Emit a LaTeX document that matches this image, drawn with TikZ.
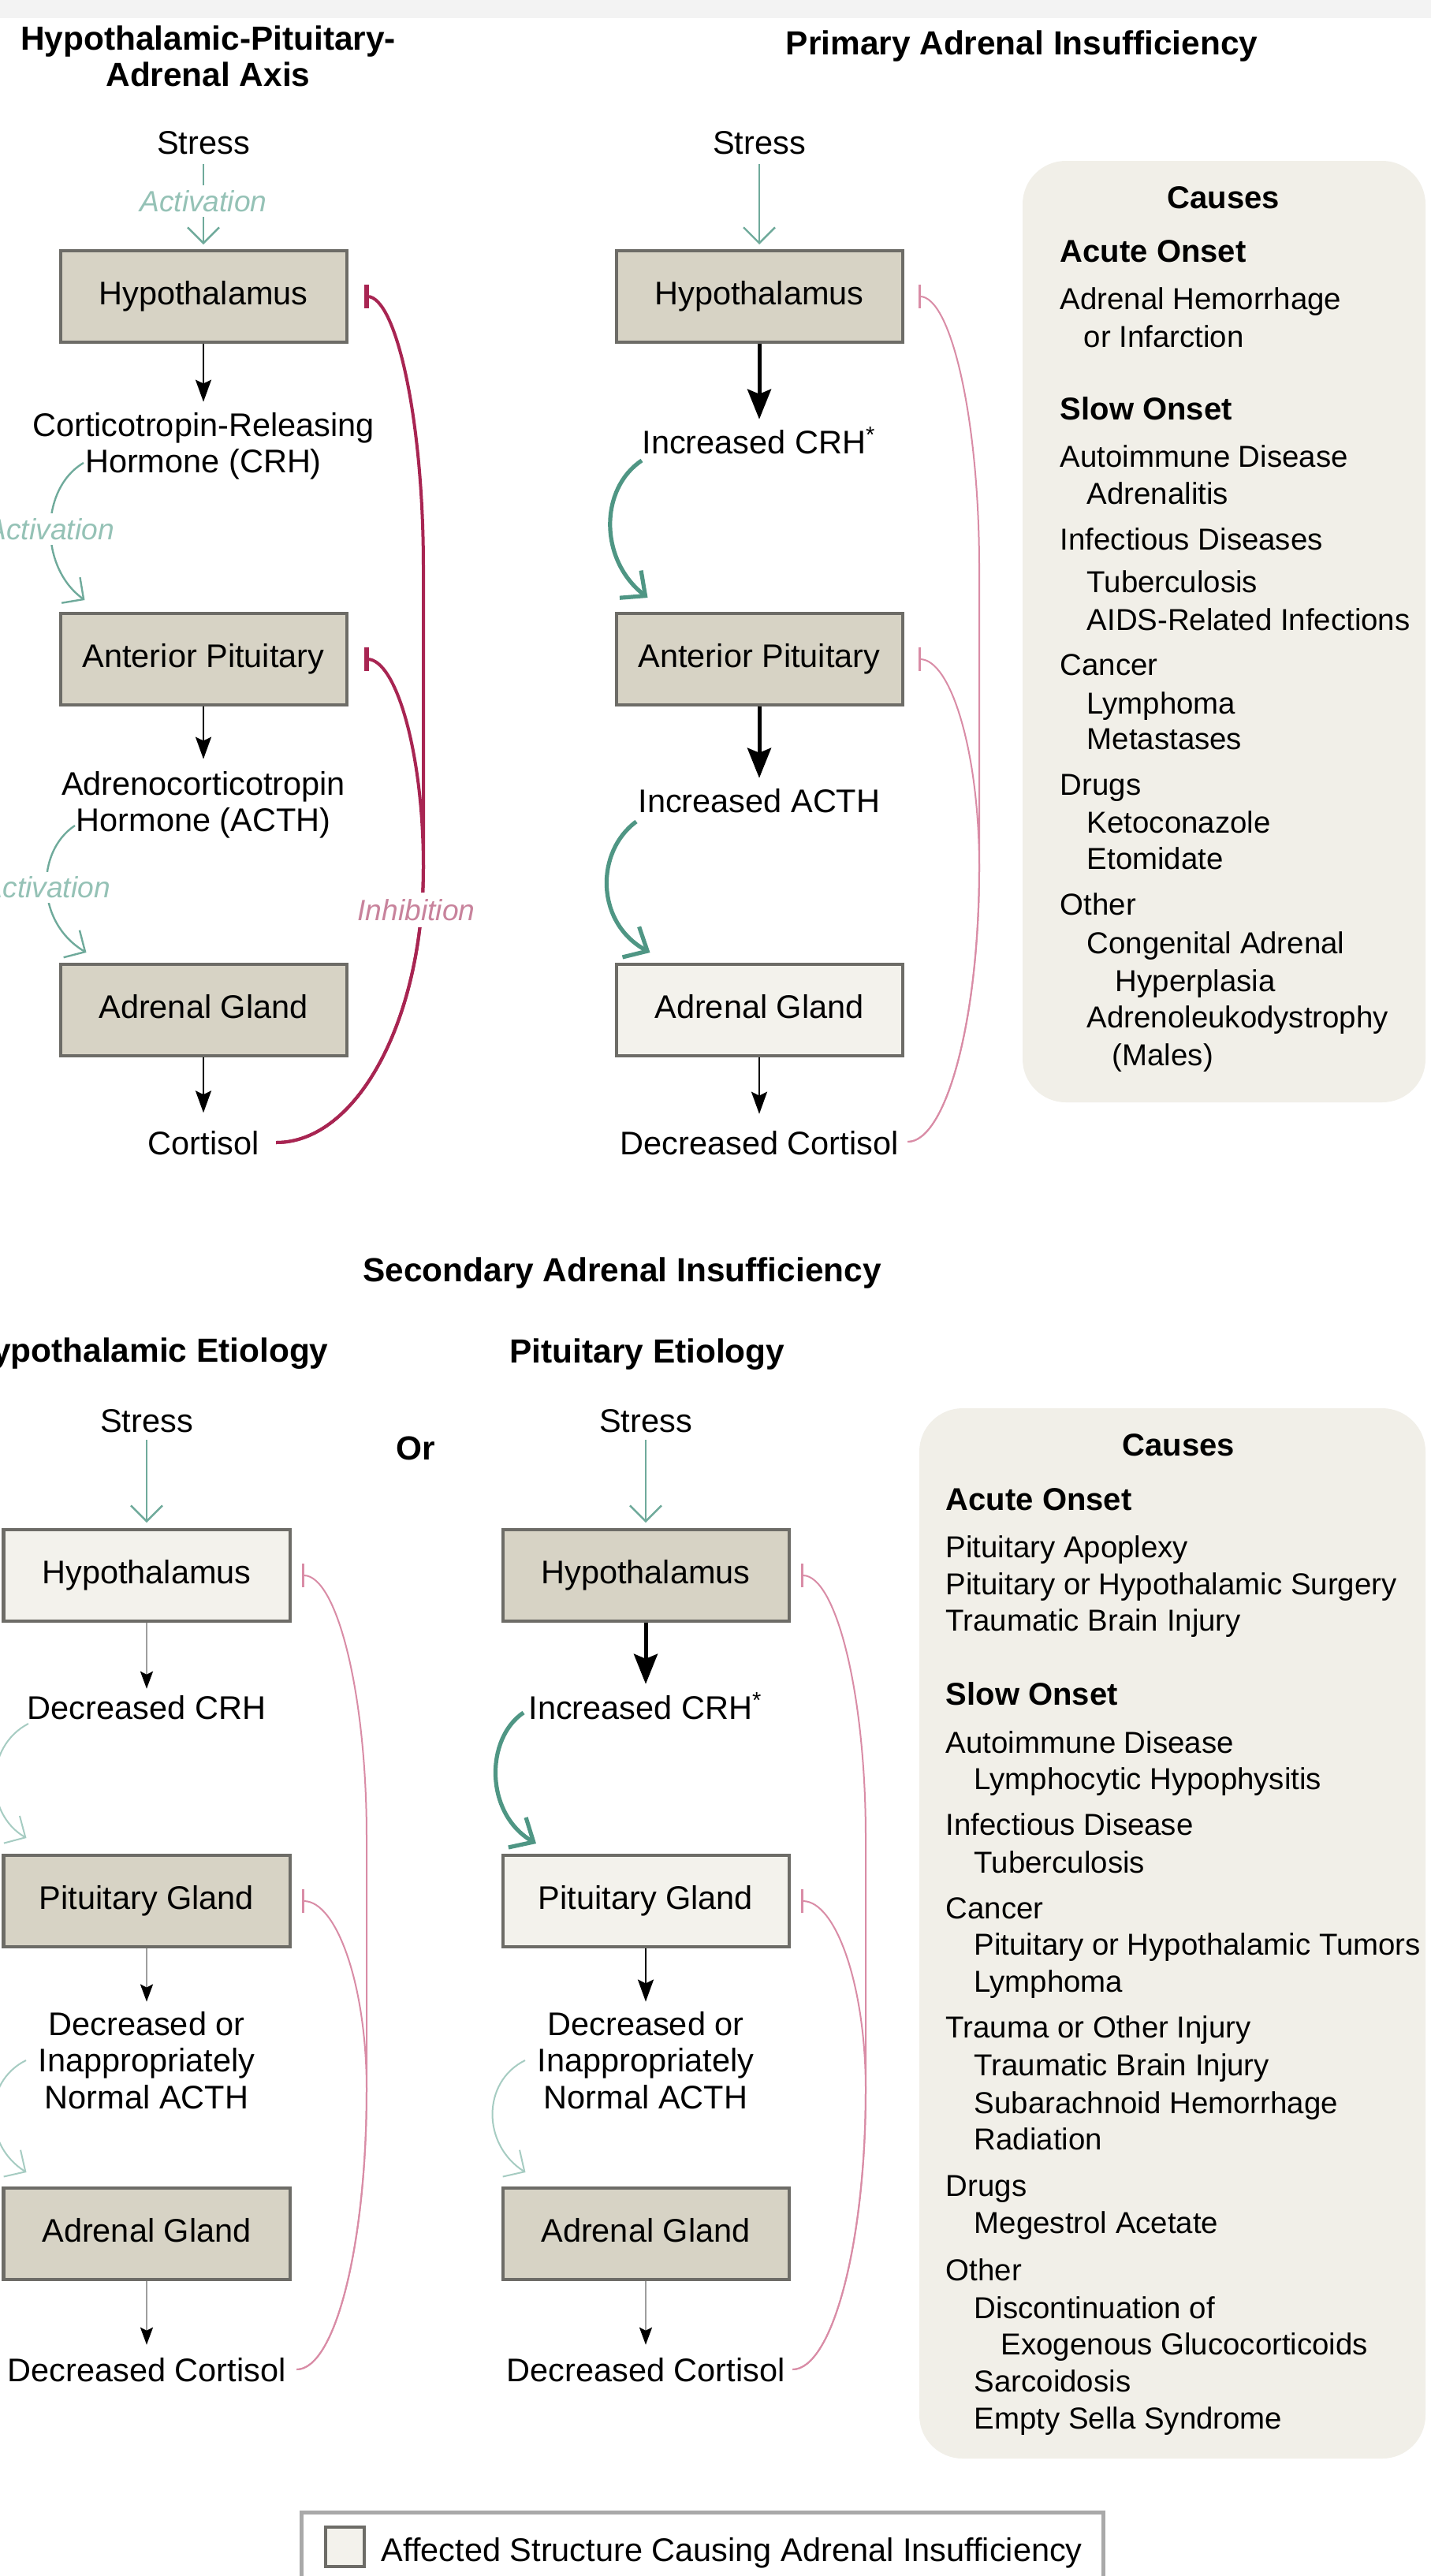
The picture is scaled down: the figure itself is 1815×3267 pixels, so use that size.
\documentclass[tikz,border=0pt]{standalone}
\usepackage{fontspec}
\setmainfont{Liberation Sans}
\usetikzlibrary{arrows.meta}
\definecolor{beigefill}{HTML}{D7D3C5}
\definecolor{palefill}{HTML}{F3F2EC}
\definecolor{boxline}{HTML}{6D6C67}
\definecolor{tealdark}{HTML}{4F9684}
\definecolor{tealmid}{HTML}{6FAA9B}
\definecolor{teallight}{HTML}{A6CCC2}
\definecolor{actlab}{HTML}{95C2B6}
\definecolor{crimson}{HTML}{A82552}
\definecolor{pinkline}{HTML}{D98CA6}
\definecolor{inhlab}{HTML}{C8839C}
\definecolor{causefill}{HTML}{F1EFE8}
\definecolor{grayarr}{HTML}{9E9E9E}
\definecolor{legline}{HTML}{A9A9A9}
\definecolor{topband}{HTML}{F3F3F3}
\newcommand\fbody{\fontsize{10.375pt}{11.6pt}\selectfont}
\newcommand\fttl{\fontsize{10.6pt}{11.5pt}\selectfont\bfseries}
\newcommand\fcz{\fontsize{9.6pt}{11.8pt}\selectfont}
\newcommand\fczb{\fontsize{10pt}{11.8pt}\selectfont\bfseries}
\newcommand\flab{\fontsize{9.3pt}{11pt}\selectfont\itshape}
\begin{document}
\begin{tikzpicture}[x=0.25pt,y=-0.25pt,
 box/.style={draw=boxline, line width=1pt, minimum width=90.75pt, minimum height=29pt, inner sep=0pt, font=\fbody, text height=7.57pt, text depth=2.18pt},
 bbox/.style={box, fill=beigefill},
 pbox/.style={box, fill=palefill},
 lbl/.style={inner sep=0pt, font=\fbody, text height=7.57pt, text depth=2.18pt},
 mlbl/.style={inner sep=0pt, font=\fbody, align=center},
 ttl/.style={inner sep=0pt, font=\fttl, text height=7.7pt, text depth=2.2pt},
 mttl/.style={inner sep=0pt, font=\fttl, align=center},
 blkarr/.style={draw=black, line width=0.6pt, -{Stealth[length=7pt,width=5pt,inset=1.2pt]}},
 blkthick/.style={draw=black, line width=1.25pt, -{Stealth[length=9.5pt,width=7.5pt,inset=1.5pt]}},
 grayarrow/.style={draw=grayarr, line width=0.6pt, -{Stealth[length=5.5pt,width=4pt,inset=1pt,color=black]}},
 tealthin/.style={draw=tealmid, line width=0.6pt, -{Straight Barb[length=5pt,width=10pt]}},
 tealthick/.style={draw=tealdark, line width=1.3pt, -{Straight Barb[length=6pt,width=11pt]}},
 teallite/.style={draw=teallight, line width=0.5pt, -{Straight Barb[length=5pt,width=10pt]}},
 actl/.style={inner sep=1.5pt, font=\flab, text=actlab, fill=white},
 inhthick/.style={draw=crimson, line width=1pt, -{Bar[width=7.5pt,line width=1.5pt]}},
 inhthin/.style={draw=pinkline, line width=0.5pt, -{Bar[width=7.5pt,line width=0.8pt]}},
 cz/.style={anchor=base west, inner sep=0pt, font=\fcz},
 czb/.style={anchor=base west, inner sep=0pt, font=\fczb}]
\useasboundingbox (0,0) rectangle (1815,3267);
\fill[white] (0,0) rectangle (1815,3267);
\fill[topband] (0,0) rectangle (1815,23);
\fill[causefill, rounded corners=13.75pt] (1297,204) rectangle (1808,1398);
\fill[causefill, rounded corners=13.75pt] (1166,1786) rectangle (1808,3118);

% titles
\node[mttl] (t1) at (264,71) {Hypothalamic-Pituitary-\\Adrenal Axis};
\node[ttl] (t2) at (1296,58) {Primary Adrenal Insufficiency};
\node[ttl] (t3) at (789,1614) {Secondary Adrenal Insufficiency};
\node[ttl] (t4) at (188,1716) {Hypothalamic Etiology};
\node[ttl] (t5) at (821,1717) {Pituitary Etiology};
\node[ttl] (or) at (527,1840) {Or};

% ---------- HPA axis ----------
\node[lbl] (s1) at (258,185) {Stress};
\node[bbox] (h1) at (258,376) {Hypothalamus};
\node[mlbl] (crh1) at (258,566) {Corticotropin-Releasing\\Hormone (CRH)};
\node[bbox] (ap1) at (258,836) {Anterior Pituitary};
\node[mlbl] (acth1) at (258,1021) {Adrenocorticotropin\\Hormone (ACTH)};
\node[bbox] (ag1) at (258,1281) {Adrenal Gland};
\node[lbl] (cort1) at (258,1454) {Cortisol};
\draw[tealthin, shorten <=0.6pt, shorten >=1.5pt] (s1.south) -- node[actl, pos=0.45] (act1) {Activation} (h1.north);
\draw[blkarr, shorten >=3.25pt] (h1.south) -- (crh1.north);
\draw[blkarr, shorten >=3.75pt] (ap1.south) -- (acth1.north);
\draw[blkarr, shorten >=5.6pt] (ag1.south) -- (cort1.north);
\draw[tealthin] ([shift={(-152,21)}]crh1.center) .. controls (50,620) and (50,720) .. node[actl, pos=0.5] (act2) {Activation} ([shift={(33,-15)}]ap1.north west);
\draw[tealthin] ([shift={(-163,26)}]acth1.center) .. controls (45,1080) and (45,1170) .. node[actl, pos=0.5] (act3) {Activation} ([shift={(35,-13)}]ag1.north west);
\draw[inhthick] ([shift={(21,-5)}]cort1.east) .. controls (453,1449) and (537,1293) .. (537,1100) -- (537,720) .. controls (537,530) and (502,376) .. ([shift={(20,0)}]h1.east);
\draw[inhthick] ([shift={(21,-5)}]cort1.east) .. controls (453,1449) and (537,1293) .. (537,1100) .. controls (537,954) and (502,836) .. ([shift={(20,0)}]ap1.east);
\node[font=\flab, text=inhlab, fill=white, inner sep=2pt] (inh) at (528,1154) {Inhibition};

% ---------- Primary ----------
\node[lbl] (s2) at (963,185) {Stress};
\node[bbox] (h2) at (963,376) {Hypothalamus};
\node[lbl] (crh2) at (963,565) {Increased CRH\textsuperscript{*}};
\node[bbox] (ap2) at (963,836) {Anterior Pituitary};
\node[lbl] (acth2) at (963,1020) {Increased ACTH};
\node[pbox] (ag2) at (963,1281) {Adrenal Gland};
\node[lbl] (cort2) at (963,1454) {Decreased Cortisol};
\draw[tealthin, shorten <=0.6pt, shorten >=1.5pt] (s2.south) -- (h2.north);
\draw[blkthick, shorten >=3.25pt] (h2.south) -- (crh2.north);
\draw[blkthick, shorten >=3.25pt] (ap2.south) -- (acth2.north);
\draw[blkarr, shorten >=5.25pt] (ag2.south) -- (cort2.north);
\draw[tealthick] ([shift={(-149,19)}]crh2.center) .. controls (760,620) and (760,710) .. ([shift={(42,-18)}]ap2.north west);
\draw[tealthick] ([shift={(-156,22)}]acth2.center) .. controls (755,1080) and (755,1170) .. ([shift={(45,-13)}]ag2.north west);
\draw[inhthin] ([shift={(11,-6)}]cort2.east) .. controls (1200,1448) and (1242,1293) .. (1242,1100) -- (1242,720) .. controls (1242,531) and (1206,376) .. ([shift={(18,0)}]h2.east);
\draw[inhthin] ([shift={(11,-6)}]cort2.east) .. controls (1200,1448) and (1242,1293) .. (1242,1100) .. controls (1242,954) and (1206,836) .. ([shift={(18,0)}]ap2.east);

% causes 1
\node[czb, anchor=base] (c1h) at (1552,264) {Causes};
\node[czb] (c1a) at (1344,332) {Acute Onset};
\node[cz] (c1b) at (1344,392) {Adrenal Hemorrhage};
\node[cz] (c1c) at (1374,440) {or Infarction};
\node[czb] (c1d) at (1344,532) {Slow Onset};
\node[cz] (c1e) at (1344,592) {Autoimmune Disease};
\node[cz] (c1f) at (1378,639) {Adrenalitis};
\node[cz] (c1g) at (1344,697) {Infectious Diseases};
\node[cz] (c1i) at (1378,751) {Tuberculosis};
\node[cz] (c1j) at (1378,799) {AIDS-Related Infections};
\node[cz] (c1k) at (1344,856) {Cancer};
\node[cz] (c1l) at (1378,905) {Lymphoma};
\node[cz] (c1m) at (1378,950) {Metastases};
\node[cz] (c1n) at (1344,1008) {Drugs};
\node[cz] (c1o) at (1378,1056) {Ketoconazole};
\node[cz] (c1p) at (1378,1102) {Etomidate};
\node[cz] (c1q) at (1344,1160) {Other};
\node[cz] (c1r) at (1378,1209) {Congenital Adrenal};
\node[cz] (c1s) at (1414,1257) {Hyperplasia};
\node[cz] (c1t) at (1378,1303) {Adrenoleukodystrophy};
\node[cz] (c1u) at (1410,1351) {(Males)};

% ---------- Secondary: hypothalamic ----------
\node[lbl] (s3) at (186,1806) {Stress};
\node[pbox] (h3) at (186,1998) {Hypothalamus};
\node[lbl] (crh3) at (186,2170) {Decreased CRH};
\node[bbox] (pg3) at (186,2411) {Pituitary Gland};
\node[mlbl] (acth3) at (186,2613) {Decreased or\\Inappropriately\\Normal ACTH};
\node[bbox] (ag3) at (186,2833) {Adrenal Gland};
\node[lbl] (cort3) at (186,3010) {Decreased Cortisol};
\draw[tealthin, shorten >=1.75pt] (s3.south) -- (h3.north);
\draw[grayarrow, shorten >=2pt] (h3.south) -- (crh3.north);
\draw[grayarrow, shorten >=3pt] (pg3.south) -- (acth3.north);
\draw[grayarrow, shorten >=4pt] (ag3.south) -- (cort3.north);
\draw[teallite] ([shift={(-150,16)}]crh3.center) .. controls (-20,2215) and (-20,2300) .. ([shift={(31,-20)}]pg3.north west);
\draw[teallite] ([shift={(-153,0)}]acth3.center) .. controls (-22,2640) and (-22,2720) .. ([shift={(31,-18)}]ag3.north west);
\draw[inhthin] ([shift={(13,-5)}]cort3.east) .. controls (425,3005) and (465,2847) .. (465,2650) -- (465,2330) .. controls (465,2147) and (427,1998) .. ([shift={(13.5,0)}]h3.east);
\draw[inhthin] ([shift={(13,-5)}]cort3.east) .. controls (425,3005) and (465,2847) .. (465,2650) .. controls (465,2518) and (427,2411) .. ([shift={(13.5,0)}]pg3.east);

% ---------- Secondary: pituitary ----------
\node[lbl] (s4) at (819,1806) {Stress};
\node[bbox] (h4) at (819,1998) {Hypothalamus};
\node[lbl] (crh4) at (819,2170) {Increased CRH\textsuperscript{*}};
\node[pbox] (pg4) at (819,2411) {Pituitary Gland};
\node[mlbl] (acth4) at (819,2613) {Decreased or\\Inappropriately\\Normal ACTH};
\node[bbox] (ag4) at (819,2833) {Adrenal Gland};
\node[lbl] (cort4) at (819,3010) {Decreased Cortisol};
\draw[tealthin, shorten >=1.75pt] (s4.south) -- (h4.north);
\draw[blkthick, shorten >=3.5pt] (h4.south) -- (crh4.north);
\draw[blkarr, shorten >=3pt] (pg4.south) -- (acth4.north);
\draw[grayarrow, shorten >=4pt] (ag4.south) -- (cort4.north);
\draw[tealthick] ([shift={(-155,2)}]crh4.center) .. controls (615,2205) and (615,2300) .. ([shift={(44.5,-13)}]pg4.north west);
\draw[teallite] ([shift={(-153,0)}]acth4.center) .. controls (611,2640) and (611,2720) .. ([shift={(31,-18)}]ag4.north west);
\draw[inhthin] ([shift={(9,-5)}]cort4.east) .. controls (1055,3005) and (1098,2847) .. (1098,2650) -- (1098,2330) .. controls (1098,2147) and (1060,1998) .. ([shift={(13.5,0)}]h4.east);
\draw[inhthin] ([shift={(9,-5)}]cort4.east) .. controls (1055,3005) and (1098,2847) .. (1098,2650) .. controls (1098,2518) and (1060,2411) .. ([shift={(13.5,0)}]pg4.east);

% causes 2
\node[czb, anchor=base] (c2h) at (1495,1846) {Causes};
\node[czb] (c2a) at (1199,1915) {Acute Onset};
\node[cz] (c2b) at (1199,1975) {Pituitary Apoplexy};
\node[cz] (c2c) at (1199,2022) {Pituitary or Hypothalamic Surgery};
\node[cz] (c2d) at (1199,2068) {Traumatic Brain Injury};
\node[czb] (c2e) at (1199,2162) {Slow Onset};
\node[cz] (c2f) at (1199,2223) {Autoimmune Disease};
\node[cz] (c2g) at (1235,2269) {Lymphocytic Hypophysitis};
\node[cz] (c2i) at (1199,2327) {Infectious Disease};
\node[cz] (c2j) at (1235,2375) {Tuberculosis};
\node[cz] (c2k) at (1199,2433) {Cancer};
\node[cz] (c2l) at (1235,2479) {Pituitary or Hypothalamic Tumors};
\node[cz] (c2m) at (1235,2526) {Lymphoma};
\node[cz] (c2n) at (1199,2584) {Trauma or Other Injury};
\node[cz] (c2o) at (1235,2632) {Traumatic Brain Injury};
\node[cz] (c2p) at (1235,2680) {Subarachnoid Hemorrhage};
\node[cz] (c2q) at (1235,2726) {Radiation};
\node[cz] (c2r) at (1199,2785) {Drugs};
\node[cz] (c2s) at (1235,2832) {Megestrol Acetate};
\node[cz] (c2t) at (1199,2892) {Other};
\node[cz] (c2u) at (1235,2940) {Discontinuation of};
\node[cz] (c2v) at (1269,2986) {Exogenous Glucocorticoids};
\node[cz] (c2w) at (1235,3033) {Sarcoidosis};
\node[cz] (c2x) at (1235,3080) {Empty Sella Syndrome};

% legend
\draw[legline, line width=1.25pt, fill=white] (382,3186) rectangle (1399,3300);
\node[draw=boxline, line width=0.9pt, fill=palefill, minimum width=12.25pt, minimum height=12.5pt, inner sep=0pt] (key) at (437.5,3230) {};
\node[anchor=base west, inner sep=0pt, font=\fbody] (keytxt) at (483,3248) {Affected Structure Causing Adrenal Insufficiency};
\end{tikzpicture}
\end{document}
